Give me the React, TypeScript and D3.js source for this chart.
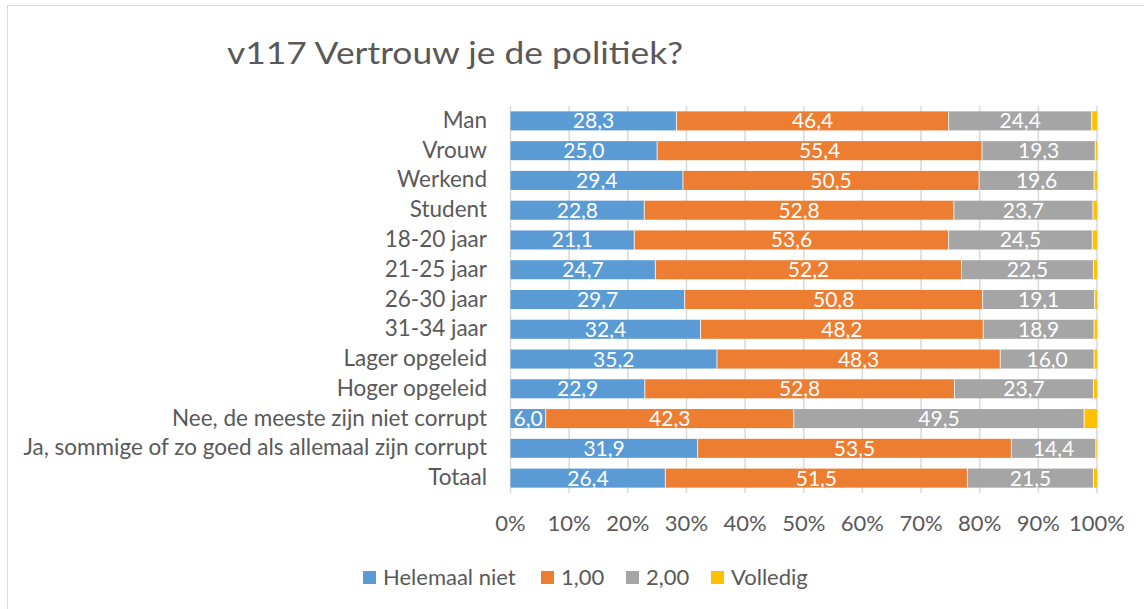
import React, { useRef, useEffect } from "react";
import * as d3 from "d3";

const categories = [
  "Man",
  "Vrouw",
  "Werkend",
  "Student",
  "18-20 jaar",
  "21-25 jaar",
  "26-30 jaar",
  "31-34 jaar",
  "Lager opgeleid",
  "Hoger opgeleid",
  "Nee, de meeste zijn niet corrupt",
  "Ja, sommige of zo goed als allemaal zijn corrupt",
  "Totaal",
];

const seriesNames = ["Helemaal niet", "1,00", "2,00", "Volledig"];

const helemaalNiet = [28.3, 25.0, 29.4, 22.8, 21.1, 24.7, 29.7, 32.4, 35.2, 22.9, 6.0, 31.9, 26.4];
const een = [46.4, 55.4, 50.5, 52.8, 53.6, 52.2, 50.8, 48.2, 48.3, 52.8, 42.3, 53.5, 51.5];
const twee = [24.4, 19.3, 19.6, 23.7, 24.5, 22.5, 19.1, 18.9, 16.0, 23.7, 49.5, 14.4, 21.5];
const volledig = [0.9, 0.3, 0.5, 0.7, 0.8, 0.6, 0.4, 0.5, 0.5, 0.6, 2.2, 0.2, 0.6];

const tickValues = [0, 10, 20, 30, 40, 50, 60, 70, 80, 90, 100];

const colors = ["#5B9BD5", "#ED7D31", "#A5A5A5", "#FFC000"];
const textColor = "#595959";
const font = "Lato, 'Open Sans', sans-serif";

const App: React.FC = () => {
  const ref = useRef<SVGSVGElement>(null);

  useEffect(() => {
    const svg = d3.select(ref.current);
    svg.selectChildren().remove();

    const width = 1144;
    const height = 609;

    // chart border
    svg
      .append("rect")
      .attr("x", 7.5)
      .attr("y", 5.5)
      .attr("width", width + 10)
      .attr("height", height + 10)
      .attr("fill", "white")
      .attr("stroke", "#D9D9D9");

    // title
    svg
      .append("text")
      .attr("transform", "translate(227,64) scale(1.18,1)")
      .attr("font-family", font)
      .attr("font-size", 30)
      .attr("fill", textColor)
      .text("v117 Vertrouw je de politiek?");

    const x = d3.scaleLinear().domain([0, 100]).range([510.5, 1097]);
    const y = d3
      .scaleBand<string>()
      .domain(categories)
      .range([106, 493])
      .paddingInner(0.36)
      .paddingOuter(0.18);

    // gridlines
    svg
      .append("g")
      .selectAll("line")
      .data(tickValues)
      .join("line")
      .attr("x1", (d) => x(d))
      .attr("x2", (d) => x(d))
      .attr("y1", 106)
      .attr("y2", 493)
      .attr("stroke", "#D9D9D9")
      .attr("stroke-width", 1.5);

    // stacked data
    const rows = categories.map((c, i) => ({
      cat: c,
      v: [helemaalNiet[i], een[i], twee[i], volledig[i]],
    }));
    const segs: { cat: string; s: number; x0: number; x1: number; v: number }[] = [];
    rows.forEach((r) => {
      let acc = 0;
      r.v.forEach((v, s) => {
        segs.push({ cat: r.cat, s, x0: acc, x1: acc + v, v });
        acc += v;
      });
    });

    svg
      .append("g")
      .selectAll("rect")
      .data(segs)
      .join("rect")
      .attr("x", (d) => x(d.x0))
      .attr("y", (d) => y(d.cat)!)
      .attr("width", (d) => x(d.x1) - x(d.x0))
      .attr("height", y.bandwidth())
      .attr("fill", (d) => colors[d.s]);

    // segment separators (thin white)
    svg
      .append("g")
      .selectAll("line")
      .data(segs.filter((d) => d.s > 0))
      .join("line")
      .attr("x1", (d) => x(d.x0))
      .attr("x2", (d) => x(d.x0))
      .attr("y1", (d) => y(d.cat)!)
      .attr("y2", (d) => y(d.cat)! + y.bandwidth())
      .attr("stroke", "white")
      .attr("stroke-width", 0.8);

    // data labels
    svg
      .append("g")
      .selectAll("text")
      .data(segs.filter((d) => d.s < 3))
      .join("text")
      .attr("x", (d) => x((d.x0 + d.x1) / 2))
      .attr("y", (d) => y(d.cat)! + y.bandwidth() / 2 + 7.5)
      .attr("text-anchor", "middle")
      .attr("font-family", font)
      .attr("font-size", 21)
      .attr("fill", "white")
      .text((d) => d.v.toFixed(1).replace(".", ","));

    // category labels
    svg
      .append("g")
      .selectAll("text")
      .data(categories)
      .join("text")
      .attr("x", 487)
      .attr("y", (d) => y(d)! + y.bandwidth() / 2 + 7)
      .attr("text-anchor", "end")
      .attr("font-family", font)
      .attr("font-size", 22.5)
      .attr("fill", textColor)
      .text((d) => d);

    // x tick labels
    svg
      .append("g")
      .selectAll("text")
      .data(tickValues)
      .join("text")
      .attr("x", (d) => x(d))
      .attr("y", 531)
      .attr("text-anchor", "middle")
      .attr("font-family", font)
      .attr("font-size", 22)
      .attr("fill", textColor)
      .text((d) => `${d}%`);

    // legend
    const legendX = [363, 541, 626, 711];
    const lg = svg
      .append("g")
      .selectAll("g")
      .data(seriesNames)
      .join("g")
      .attr("transform", (d, i) => `translate(${legendX[i]},571)`);
    lg.append("rect")
      .attr("width", 13)
      .attr("height", 13)
      .attr("fill", (d, i) => colors[i]);
    lg.append("text")
      .attr("x", 20)
      .attr("y", 14)
      .attr("font-family", font)
      .attr("font-size", 22)
      .attr("fill", textColor)
      .text((d) => d);
  }, []);

  return (
    <svg
      ref={ref}
      width={1144}
      height={609}
      style={{ position: "absolute", left: 0, top: 0, background: "white" }}
    />
  );
};

export default App;
